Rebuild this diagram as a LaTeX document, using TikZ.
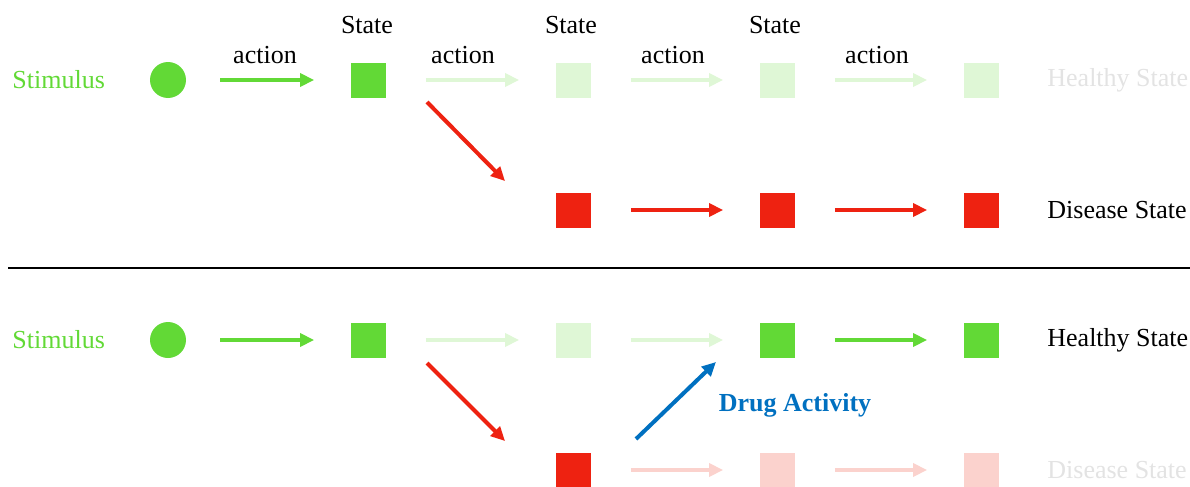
\documentclass[tikz,border=0pt]{standalone}
\usepackage{fontspec}
\setmainfont{Liberation Serif}
\usetikzlibrary{arrows.meta}
\definecolor{stimgreen}{HTML}{62D936}
\definecolor{palegreen}{HTML}{DFF7D6}
\definecolor{disred}{HTML}{EE2211}
\definecolor{palered}{HTML}{FBD2CD}
\definecolor{drugblue}{HTML}{0070C0}
\definecolor{palegray}{HTML}{E3E3E3}
\begin{document}
\begin{tikzpicture}[x=0.5pt, y=-0.5pt, font=\fontsize{13}{15}\selectfont, >={Triangle[length=7pt,width=6.5pt]},
      sqbox/.style={minimum size=17.5pt, inner sep=0pt},
      dotnode/.style={circle, fill=stimgreen, minimum size=18pt, inner sep=0pt},
      sidetext/.style={anchor=west, inner sep=0pt},
      flowarr/.style={->, line width=2pt, shorten <=20pt, shorten >=18pt},
      diagarr/.style={->, line width=2pt}]
    \useasboundingbox (0,0) rectangle (1190,487);
    % upper panel: healthy path
    \node[sidetext, text=stimgreen] (stim1) at (12,80) {Stimulus};
    \node[dotnode] (c1) at (168,80) {};
    \node[sqbox, fill=stimgreen] (h1) at (368,80) {};
    \node[sqbox, fill=palegreen] (h2) at (573,80) {};
    \node[sqbox, fill=palegreen] (h3) at (777,80) {};
    \node[sqbox, fill=palegreen] (h4) at (981,80) {};
    \node[sidetext, text=palegray] (hs1) at (1047,80) {Healthy State};
    \draw[flowarr, stimgreen, shorten <=17pt] (c1) -- (h1);
    \draw[flowarr, palegreen] (h1) -- (h2);
    \draw[flowarr, palegreen] (h2) -- (h3);
    \draw[flowarr, palegreen] (h3) -- (h4);
    \node (act1) at (265,55) {action};
    \node (act2) at (463,55) {action};
    \node (act3) at (673,55) {action};
    \node (act4) at (877,55) {action};
    \node (st1) at (367,25) {State};
    \node (st2) at (571,25) {State};
    \node (st3) at (775,25) {State};
    % upper panel: disease path
    \node[sqbox, fill=disred] (d1) at (573,210) {};
    \node[sqbox, fill=disred] (d2) at (777,210) {};
    \node[sqbox, fill=disred] (d3) at (981,210) {};
    \node[sidetext] (ds1) at (1047,210) {Disease State};
    \coordinate (sw1) at (427,102);
    \coordinate (sw2) at (505,181);
    \draw[diagarr, disred] (sw1) -- (sw2);
    \draw[flowarr, disred] (d1) -- (d2);
    \draw[flowarr, disred] (d2) -- (d3);
    % divider
    \coordinate (lineL) at (8,268);
    \coordinate (lineR) at (1190,268);
    \draw[line width=1pt] (lineL) -- (lineR);
    % lower panel: with drug
    \node[sidetext, text=stimgreen] (stim2) at (12,340) {Stimulus};
    \node[dotnode] (c2) at (168,340) {};
    \node[sqbox, fill=stimgreen] (g1) at (368,340) {};
    \node[sqbox, fill=palegreen] (g2) at (573,340) {};
    \node[sqbox, fill=stimgreen] (g3) at (777,340) {};
    \node[sqbox, fill=stimgreen] (g4) at (981,340) {};
    \node[sidetext] (hs2) at (1047,340) {Healthy State};
    \draw[flowarr, stimgreen, shorten <=17pt] (c2) -- (g1);
    \draw[flowarr, palegreen] (g1) -- (g2);
    \draw[flowarr, palegreen] (g2) -- (g3);
    \draw[flowarr, stimgreen] (g3) -- (g4);
    \node[sqbox, fill=disred] (r1) at (573,470) {};
    \node[sqbox, fill=palered] (r2) at (777,470) {};
    \node[sqbox, fill=palered] (r3) at (981,470) {};
    \node[sidetext, text=palegray] (ds2) at (1047,470) {Disease State};
    \coordinate (sw3) at (427,363);
    \coordinate (sw4) at (505,441);
    \draw[diagarr, disred] (sw3) -- (sw4);
    \draw[flowarr, palered] (r1) -- (r2);
    \draw[flowarr, palered] (r2) -- (r3);
    \coordinate (drugA) at (636,439);
    \coordinate (drugB) at (716,362);
    \draw[diagarr, drugblue] (drugA) -- (drugB);
    \node[text=drugblue, font=\fontsize{13}{15}\selectfont\bfseries] (drug) at (795,405) {Drug Activity};
\end{tikzpicture}
\end{document}
